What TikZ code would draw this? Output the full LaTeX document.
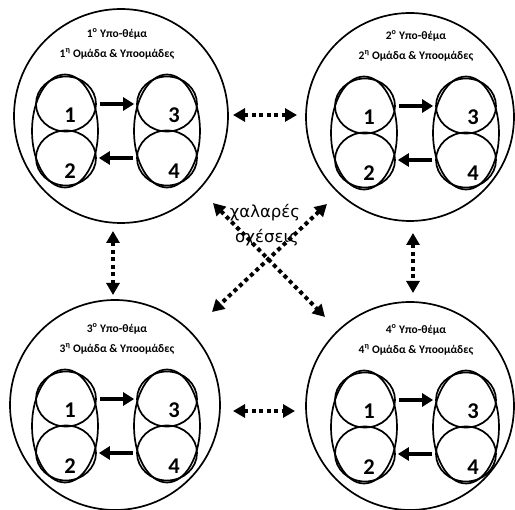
\documentclass[tikz,border=0pt]{standalone}
\usepackage{fontspec}
\setmainfont{Carlito}
\newfontfamily\dejavu{DejaVu Sans}
\usetikzlibrary{arrows.meta,shapes.geometric}
\tikzset{
  outer/.style={circle,draw,line width=1.7pt,inner sep=0pt,minimum size=#1},
  grp/.style={ellipse,draw,line width=1.7pt,inner sep=0pt,minimum width=66pt,minimum height=113pt},
  subc/.style={ellipse,draw,line width=1.7pt,inner sep=0pt,minimum width=60pt,minimum height=55pt},
  num/.style={font=\fontsize{22.5}{24}\selectfont\bfseries,inner sep=0pt},
  ttl/.style={font=\fontsize{11.5}{13}\selectfont\bfseries,inner sep=0pt},
  rel/.style={font=\dejavu\fontsize{16.5}{18}\selectfont,inner sep=0pt,anchor=base},
  solidarr/.style={line width=4.5pt,-{Triangle[length=11pt,width=13pt]}},
  dotarr/.style={line width=4pt,dash pattern=on 4pt off 3.5pt,{Triangle[length=12pt,width=13pt]}-{Triangle[length=12pt,width=13pt]}}
}
\newcommand\mkgroup[4]{%
  \node[grp] (#1L) at (#2-51,#3) {};
  \node[grp] (#1R) at (#2+51,#3) {};
  \node[subc] (#1a) at (#2-50,#3-27) {};
  \node[subc] (#1b) at (#2-50,#3+27) {};
  \node[subc] (#1c) at (#2+51,#3-27) {};
  \node[subc] (#1d) at (#2+51,#3+27) {};
  \node[num] (#1n1) at (#2-46,#3-16) {1};
  \node[num] (#1n2) at (#2-46,#3+40) {2};
  \node[num] (#1n3) at (#2+58,#3-16) {3};
  \node[num] (#1n4) at (#2+58,#3+40) {4};
  \draw[solidarr,shorten <=3pt,shorten >=2pt] (#1a) -- (#1c);
  \draw[solidarr,shorten <=3pt,shorten >=2pt] (#1d) -- (#1b);
  \node[ttl] (#1t1) at (#2+1,#3-97) {#4\textsuperscript{ο} Υπο-θέμα};
  \node[ttl] (#1t2) at (#2+1,#3-77) {#4\textsuperscript{η} Ομάδα \& Υποομάδες};
}
\begin{document}
\begin{tikzpicture}[x=1pt,y=-1pt]
\useasboundingbox (0,0) rectangle (515,510);
\clip (0,0) rectangle (515,510);
% outer circles
\node[outer=214pt] (TL) at (121,116) {};
\node[outer=208pt] (TR) at (410,117) {};
\node[outer=210pt] (BL) at (115,405) {};
\node[outer=208pt] (BR) at (410,406) {};
% groups
\mkgroup{g1}{116}{131}{1}
\mkgroup{g2}{415}{133}{2}
\mkgroup{g3}{116}{426}{3}
\mkgroup{g4}{415}{427}{4}
% dotted connectors
\coordinate (ha1) at (233,115);
\coordinate (ha2) at (297,115);
\coordinate (hb1) at (233,411);
\coordinate (hb2) at (295,411);
\coordinate (va1) at (113,231);
\coordinate (va2) at (113,295);
\coordinate (vb1) at (413,233);
\coordinate (vb2) at (413,293);
\coordinate (da1) at (213,203);
\coordinate (da2) at (325,317);
\coordinate (db1) at (327,204);
\coordinate (db2) at (212,312);
\draw[dotarr] (ha1) -- (ha2);
\draw[dotarr] (hb1) -- (hb2);
\draw[dotarr] (va1) -- (va2);
\draw[dotarr] (vb1) -- (vb2);
\draw[dotarr] (da1) -- (da2);
\draw[dotarr] (db1) -- (db2);
\node[rel] (rel1) at (265,218) {χαλαρές};
\node[rel] (rel2) at (267,243) {σχέσεις};
\end{tikzpicture}
\end{document}
